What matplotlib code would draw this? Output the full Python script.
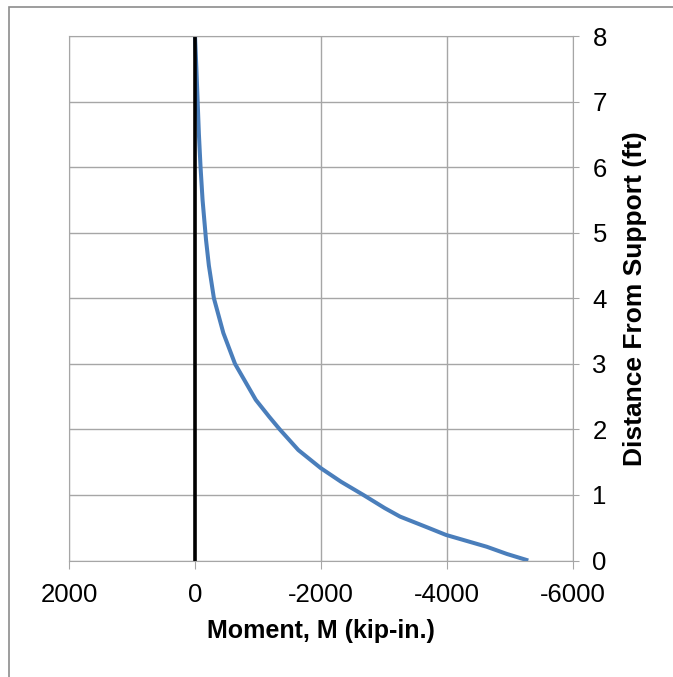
import matplotlib

matplotlib.use("Agg")
import matplotlib.pyplot as plt
from matplotlib.patches import Rectangle

plt.rcParams["font.family"] = ["Liberation Sans", "DejaVu Sans"]
plt.rcParams["axes.unicode_minus"] = False

# distance from support (ft) and moment (kip-in.)
distance = [0.0, 0.1, 0.21, 0.39, 0.5, 0.67, 0.8, 1.0, 1.2, 1.41, 1.685,
            2.0, 2.19, 2.45, 3.0, 3.47, 4.0, 4.5, 4.89, 5.5, 6.0, 6.5,
            7.0, 7.5, 8.0]
moment = [-5290, -4950, -4630, -3984, -3700, -3254, -3010, -2672, -2320,
          -1995, -1640, -1345, -1180, -965, -635, -450, -300, -220, -175,
          -120, -88, -62, -42, -22, 0]
zero_x = [0, 0]
zero_y = [0, 8]

x_ticks = [2000, 0, -2000, -4000, -6000]
y_ticks = [0, 1, 2, 3, 4, 5, 6, 7, 8]

fig = plt.figure(figsize=(6.73, 6.77), dpi=100)
ax = fig.add_axes([69 / 673, 1 - 560.5 / 677, 504 / 673, 524.5 / 677])

ax.plot(moment, distance, color="#4a7ebb", lw=2.9, solid_capstyle="butt",
        solid_joinstyle="round")
ax.plot(zero_x, zero_y, color="black", lw=2.6, solid_capstyle="butt")

ax.set_xlim(2000, -6000)
ax.set_ylim(0, 8)
ax.set_xticks(x_ticks)
ax.set_yticks(y_ticks)
ax.grid(True, color="#a6a6a6", lw=1.0)
ax.set_axisbelow(True)

ax.yaxis.tick_right()
ax.yaxis.set_label_position("right")
for side in ("top", "right", "left", "bottom"):
    ax.spines[side].set_color("#a6a6a6")
ax.tick_params(axis="both", colors="#a6a6a6", labelcolor="black",
               labelsize=18.5, length=6, direction="out")
ax.tick_params(axis="x", pad=10)
ax.tick_params(axis="y", pad=10, length=4)

ax.set_xlabel("Moment, M (kip-in.)", fontsize=18, fontweight="bold")
ax.set_ylabel("Distance From Support (ft)", fontsize=19, fontweight="bold")
ax.xaxis.set_label_coords(0.5, -0.112)
ax.yaxis.set_label_coords(1.099, 0.5)

# outer chart border, cut off at right and bottom like the reference
fig.patches.append(Rectangle((9 / 673, -0.1), 1.2, 1.1 - 7 / 677,
                             transform=fig.transFigure, fill=False,
                             edgecolor="#8c8c8c", lw=1.2))

fig.savefig("out.png", dpi=100)
